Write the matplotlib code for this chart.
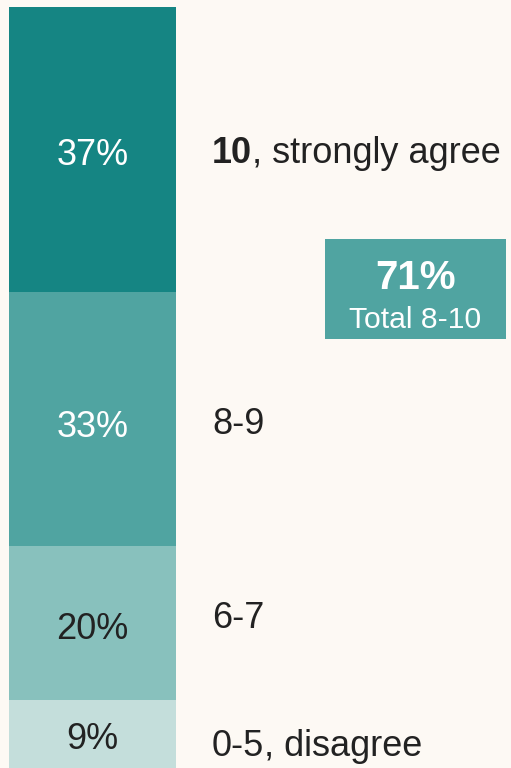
import matplotlib
matplotlib.use("Agg")
import matplotlib.pyplot as plt
import numpy as np

# Survey answers, top of the stack first
categories = ["10", "8-9", "6-7", "0-5"]
category_notes = [", strongly agree", "", "", ", disagree"]
shares = [37, 33, 20, 9]
total_8_10 = 71
total_label = "Total 8-10"

colors = ["#158583", "#50a4a1", "#88c1bd", "#c4dedb"]
value_text_colors = ["white", "white", "#222222", "#222222"]
BG = "#fdf9f4"
INK = "#222222"

plt.rcParams["font.family"] = ["Liberation Sans", "DejaVu Sans"]

W, H, DPI = 511, 768, 100
fig = plt.figure(figsize=(W / DPI, H / DPI), dpi=DPI, facecolor=BG)
ax = fig.add_axes([0, 0, 1, 1])
ax.set_facecolor(BG)
ax.axis("off")

PX = 7.7        # pixels per percentage point
TOP = 7         # gap above the bar, pixels
ax.set_xlim(0, W)
ax.set_ylim((H - TOP) / PX, -TOP / PX)

bar_x, bar_w = 92.5, 167
starts = np.concatenate([[0], np.cumsum(shares)[:-1]])
ax.bar(bar_x, shares, width=bar_w, bottom=starts, color=colors,
       linewidth=0, align="center")

def px2pt(p):
    return p * 72 / DPI

FS = 26
# baseline shift below segment centre, pixels
value_shift = [16, 18.5, 16, 14]
label_shift = [14, 15.5, 4.5, 21]

fig.canvas.draw()
renderer = fig.canvas.get_renderer()

for i, (s0, v) in enumerate(zip(starts, shares)):
    yc = s0 + v / 2
    ax.annotate(f"{v}%", xy=(bar_x, yc), xytext=(0, -px2pt(value_shift[i])),
                textcoords="offset points", ha="center", va="baseline",
                fontsize=FS, color=value_text_colors[i])

    bold = i == 0
    head = ax.annotate(categories[i], xy=(212, yc),
                       xytext=(0, -px2pt(label_shift[i])),
                       textcoords="offset points", ha="left", va="baseline",
                       fontsize=FS, color=INK,
                       fontweight="bold" if bold else "normal")
    if category_notes[i]:
        bb = head.get_window_extent(renderer)
        ax.annotate(category_notes[i], xy=(212, yc),
                    xytext=(px2pt(bb.width), -px2pt(label_shift[i])),
                    textcoords="offset points", ha="left", va="baseline",
                    fontsize=FS, color=INK)

# Summary box for the top two answers
box = fig.add_axes([325 / W, (H - 339) / H, 181 / W, 100 / H])
box.set_facecolor(colors[1])
box.set_xticks([])
box.set_yticks([])
for sp in box.spines.values():
    sp.set_visible(False)
box.text(0.5, 0.50, f"{total_8_10}%", ha="center", va="baseline",
         fontsize=29, fontweight="bold", color="white",
         transform=box.transAxes)
box.text(0.5, 0.105, total_label, ha="center", va="baseline",
         fontsize=21.7, color="white", transform=box.transAxes)

fig.savefig("out.png", dpi=DPI, facecolor=BG)
